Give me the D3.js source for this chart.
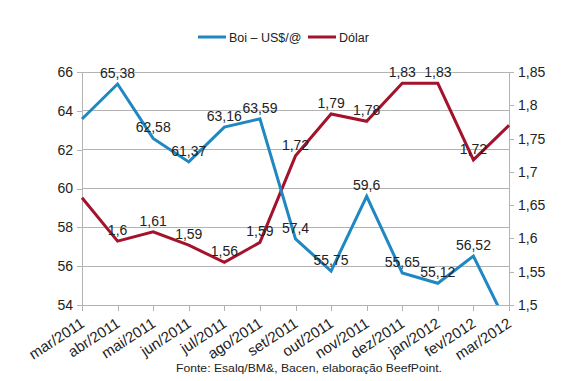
<!DOCTYPE html>
<html>
<head>
<meta charset="utf-8">
<script src="https://cdn.jsdelivr.net/npm/d3@7"></script>
<style>
  html, body { margin: 0; padding: 0; background: #fff; }
  svg { display: block; font-family: "Liberation Sans", Arial, sans-serif; }
</style>
</head>
<body>
<svg id="chart" width="569" height="381"></svg>
<script>
const categories = ["mar/2011","abr/2011","mai/2011","jun/2011","jul/2011","ago/2011","set/2011","out/2011","nov/2011","dez/2011","jan/2012","fev/2012","mar/2012"];
const boi = [63.58, 65.38, 62.58, 61.37, 63.16, 63.59, 57.4, 55.75, 59.6, 55.65, 55.12, 56.52, 52.8];
const dolar = [1.661, 1.596, 1.61, 1.59, 1.564, 1.594, 1.724, 1.787, 1.776, 1.833, 1.833, 1.718, 1.77];
const leftTicks = [54, 56, 58, 60, 62, 64, 66];
const rightTicks = [1.5, 1.55, 1.6, 1.65, 1.7, 1.75, 1.8, 1.85];
const seriesNames = ["Boi – US$/@", "Dólar"];
const source = "Fonte: Esalq/BM&, Bacen, elaboração BeefPoint.";

const blue = "#1f87c1", red = "#a3132b";
const gridColor = "#b3b3b3", textColor = "#222";

const svg = d3.select("#chart");
const L = 82, R = 509, T = 72, B = 305;

const loc = d3.formatLocale({decimal: ",", thousands: ".", grouping: [3], currency: ["", ""]});
const fmt = loc.format(".2~f");
const fmtTick = loc.format("~g");

const x = d3.scalePoint().domain(categories).range([L, R]);
const yL = d3.scaleLinear().domain([54, 66]).range([B, T]);
const yR = d3.scaleLinear().domain([1.5, 1.85]).range([B, T]);

// gridlines
svg.append("g").selectAll("line").data(leftTicks).join("line")
  .attr("x1", L).attr("x2", R)
  .attr("y1", d => yL(d)).attr("y2", d => yL(d))
  .attr("stroke", gridColor).attr("stroke-width", 1).attr("shape-rendering", "crispEdges");

// axes
const axL = svg.append("g").attr("transform", `translate(${L},0)`)
  .call(d3.axisLeft(yL).tickValues(leftTicks).tickSize(5).tickPadding(4).tickFormat(fmtTick));
const axR = svg.append("g").attr("transform", `translate(${R},0)`)
  .call(d3.axisRight(yR).tickValues(rightTicks).tickSize(5).tickPadding(4).tickFormat(fmtTick));
const axB = svg.append("g").attr("transform", `translate(0,${B})`)
  .call(d3.axisBottom(x).tickSize(6).tickSizeOuter(0).tickPadding(4));

[axL, axR, axB].forEach(g => {
  g.select(".domain").attr("stroke", gridColor).attr("shape-rendering", "crispEdges");
  g.selectAll(".tick line").attr("stroke", gridColor).attr("shape-rendering", "crispEdges");
  g.selectAll("text").attr("fill", textColor).attr("font-size", 14)
    .attr("font-family", '"Liberation Sans", Arial, sans-serif');
});
axB.select(".domain").attr("d", `M${L},0H${R}`);
axB.selectAll(".tick text")
  .attr("text-anchor", "end")
  .attr("font-size", 15)
  .attr("dy", null).attr("y", null)
  .attr("transform", "translate(3,21) rotate(-33)");

// clip
svg.append("clipPath").attr("id", "plotclip")
  .append("rect").attr("x", L - 2).attr("y", T - 2).attr("width", R - L + 4).attr("height", B - T + 2);

const lineB = d3.line().x((d, i) => x(categories[i])).y(d => yL(d));
const lineD = d3.line().x((d, i) => x(categories[i])).y(d => yR(d));

const plot = svg.append("g").attr("clip-path", "url(#plotclip)");
plot.append("path").datum(dolar).attr("d", lineD)
  .attr("fill", "none").attr("stroke", red).attr("stroke-width", 3).attr("stroke-linejoin", "miter");
plot.append("path").datum(boi).attr("d", lineB)
  .attr("fill", "none").attr("stroke", blue).attr("stroke-width", 3).attr("stroke-linejoin", "miter");

// data labels (first and last points unlabeled)
const inner = (arr) => arr.map((v, i) => ({v, i})).filter(d => d.i > 0 && d.i < arr.length - 1);
svg.append("g").selectAll("text").data(inner(boi)).join("text")
  .attr("x", d => x(categories[d.i])).attr("y", d => yL(d.v) - 6)
  .attr("text-anchor", "middle").attr("font-size", 14).attr("fill", textColor)
  .text(d => fmt(d.v));
svg.append("g").selectAll("text").data(inner(dolar)).join("text")
  .attr("x", d => x(categories[d.i])).attr("y", d => yR(d.v) - 6)
  .attr("text-anchor", "middle").attr("font-size", 14).attr("fill", textColor)
  .text(d => fmt(d.v));

// legend
const leg = svg.append("g");
const legItems = [
  {name: seriesNames[0], color: blue, x: 198},
  {name: seriesNames[1], color: red, x: 308}
];
legItems.forEach(it => {
  leg.append("line").attr("x1", it.x).attr("x2", it.x + 28).attr("y1", 37).attr("y2", 37)
    .attr("stroke", it.color).attr("stroke-width", 3);
  leg.append("text").attr("x", it.x + 31).attr("y", 41.5).attr("font-size", 12.5)
    .attr("fill", textColor).text(it.name);
});

// source
svg.append("text").attr("x", 176).attr("y", 372).attr("font-size", 11)
  .attr("fill", textColor).attr("textLength", 266).attr("lengthAdjust", "spacingAndGlyphs")
  .text(source);
</script>
</body>
</html>
